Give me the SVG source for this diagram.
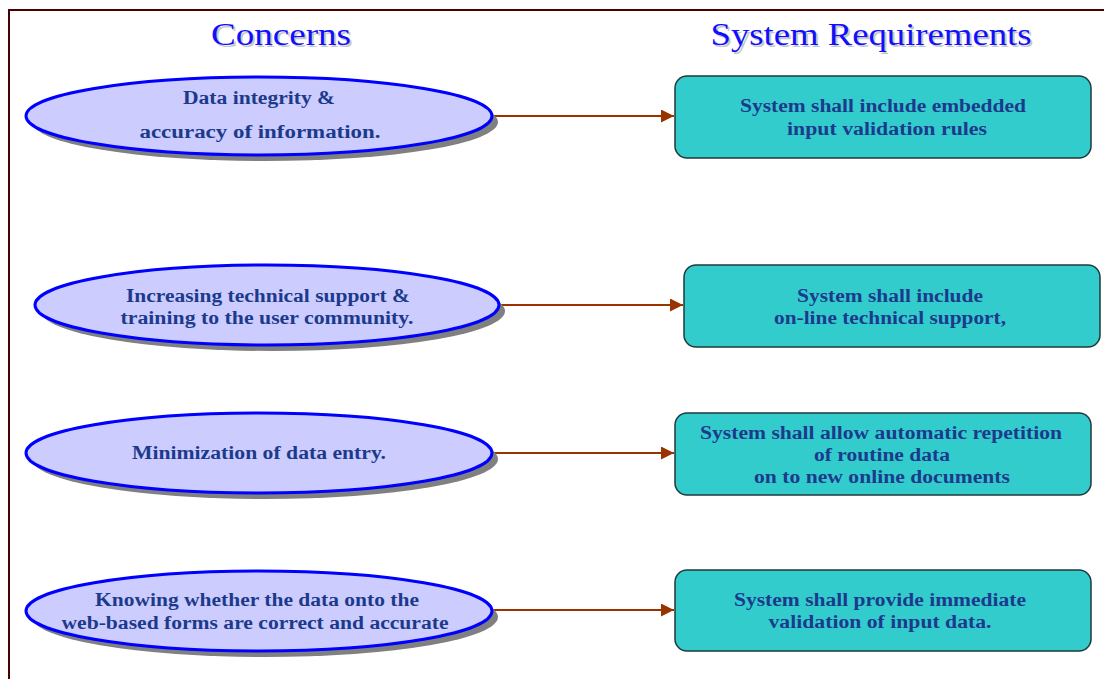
<svg xmlns="http://www.w3.org/2000/svg" width="1104" height="679" viewBox="0 0 1104 679">
<defs>
<style>
.title{font-family:"Liberation Serif","Times New Roman",serif;font-size:31px;fill:#1010ff;text-anchor:middle}
.tshadow{font-family:"Liberation Serif","Times New Roman",serif;font-size:31px;fill:#c8c8c8;text-anchor:middle}
.lbl{font-family:"Liberation Serif","Times New Roman",serif;font-size:18px;font-weight:bold;fill:#1c3a8c;text-anchor:middle}
.ell{fill:#ccccff;stroke:#0000ff;stroke-width:3}
.shadow{fill:#808080}
.box{fill:#33cccc;stroke:#1e3a3a;stroke-width:1.5}
.conn{stroke:#993300;stroke-width:2;fill:none}
</style>
<marker id="arr" viewBox="0 0 10 10" refX="10" refY="5" markerWidth="8.5" markerHeight="6.5" markerUnits="strokeWidth" orient="auto">
<path d="M0,0 L10,5 L0,10 z" fill="#993300"/>
</marker>
</defs>
<rect width="1104" height="679" fill="#ffffff"/>
<g id="frame">
<path d="M9,679 L9,10 L1104,10" fill="none" stroke="#4a0000" stroke-width="2"/>
</g>
<g id="titles">
<text class="tshadow" x="283" y="47" textLength="140" lengthAdjust="spacingAndGlyphs">Concerns</text>
<text class="title" x="281" y="45" textLength="140" lengthAdjust="spacingAndGlyphs">Concerns</text>
<text class="tshadow" x="873" y="47" textLength="321" lengthAdjust="spacingAndGlyphs">System Requirements</text>
<text class="title" x="871" y="45" textLength="321" lengthAdjust="spacingAndGlyphs">System Requirements</text>
</g>
<g id="connectors">
<line class="conn" x1="493" y1="116" x2="674" y2="116" marker-end="url(#arr)"/>
<line class="conn" x1="501" y1="305" x2="683" y2="305" marker-end="url(#arr)"/>
<line class="conn" x1="493" y1="453" x2="674" y2="453" marker-end="url(#arr)"/>
<line class="conn" x1="493" y1="610" x2="674" y2="610" marker-end="url(#arr)"/>
</g>
<g id="c1">
<ellipse class="shadow" cx="265" cy="122" rx="233" ry="39"/>
<ellipse class="ell" cx="259" cy="116" rx="233" ry="39"/>
<text class="lbl" x="259" y="104" textLength="152" lengthAdjust="spacingAndGlyphs">Data integrity &amp;</text>
<text class="lbl" x="260" y="138" textLength="241" lengthAdjust="spacingAndGlyphs">accuracy of information.</text>
</g>
<g id="c2">
<ellipse class="shadow" cx="273" cy="311" rx="232" ry="40"/>
<ellipse class="ell" cx="267" cy="305" rx="232" ry="40"/>
<text class="lbl" x="268" y="302" textLength="284" lengthAdjust="spacingAndGlyphs">Increasing technical support &amp;</text>
<text class="lbl" x="267" y="324" textLength="293" lengthAdjust="spacingAndGlyphs">training to the user community.</text>
</g>
<g id="c3">
<ellipse class="shadow" cx="265" cy="459" rx="233" ry="40"/>
<ellipse class="ell" cx="259" cy="453" rx="233" ry="40"/>
<text class="lbl" x="259" y="459" textLength="254" lengthAdjust="spacingAndGlyphs">Minimization of data entry.</text>
</g>
<g id="c4">
<ellipse class="shadow" cx="265" cy="617" rx="233" ry="40"/>
<ellipse class="ell" cx="259" cy="611" rx="233" ry="40"/>
<text class="lbl" x="257" y="606" textLength="324" lengthAdjust="spacingAndGlyphs">Knowing whether the data onto the</text>
<text class="lbl" x="255" y="629" textLength="387" lengthAdjust="spacingAndGlyphs">web-based forms are correct and accurate</text>
</g>
<g id="r1">
<rect class="box" x="675" y="76" width="416" height="82" rx="12"/>
<text class="lbl" x="883" y="112" textLength="286" lengthAdjust="spacingAndGlyphs">System shall include embedded</text>
<text class="lbl" x="887" y="135" textLength="200" lengthAdjust="spacingAndGlyphs">input validation rules</text>
</g>
<g id="r2">
<rect class="box" x="684" y="265" width="416" height="82" rx="12"/>
<text class="lbl" x="890" y="302" textLength="186" lengthAdjust="spacingAndGlyphs">System shall include</text>
<text class="lbl" x="890" y="324" textLength="232" lengthAdjust="spacingAndGlyphs">on-line technical support,</text>
</g>
<g id="r3">
<rect class="box" x="675" y="413" width="416" height="82" rx="12"/>
<text class="lbl" x="881" y="439" textLength="362" lengthAdjust="spacingAndGlyphs">System shall allow automatic repetition</text>
<text class="lbl" x="882" y="461" textLength="136" lengthAdjust="spacingAndGlyphs">of routine data</text>
<text class="lbl" x="882" y="483" textLength="256" lengthAdjust="spacingAndGlyphs">on to new online documents</text>
</g>
<g id="r4">
<rect class="box" x="675" y="570" width="416" height="81" rx="12"/>
<text class="lbl" x="880" y="606" textLength="292" lengthAdjust="spacingAndGlyphs">System shall provide immediate</text>
<text class="lbl" x="880" y="628" textLength="223" lengthAdjust="spacingAndGlyphs">validation of input data.</text>
</g>
</svg>
